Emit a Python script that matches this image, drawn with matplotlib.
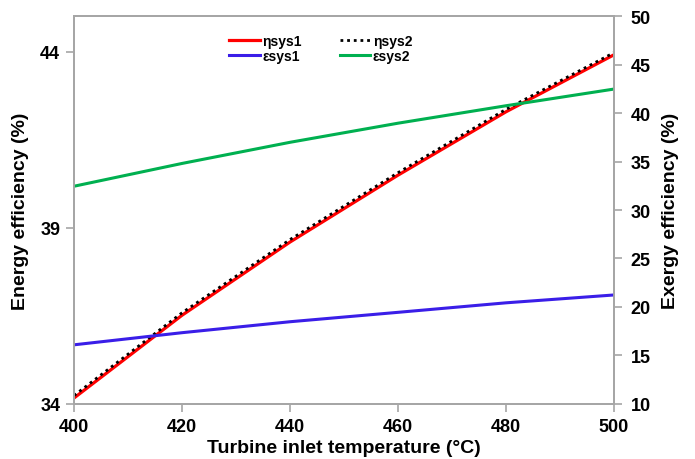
import numpy as np
import matplotlib.pyplot as plt

plt.rcParams['font.family'] = ['Liberation Sans', 'DejaVu Sans']
plt.rcParams['font.weight'] = 'bold'

# turbine inlet temperature (°C)
temp = [400, 420, 440, 460, 480, 500]
# energy efficiency (%), left axis
eta_sys1 = [34.17, 36.52, 38.60, 40.50, 42.30, 43.92]
eta_sys2 = [34.24, 36.59, 38.67, 40.57, 42.37, 43.98]
# exergy efficiency (%), right axis
eps_sys1 = [16.10, 17.35, 18.48, 19.45, 20.43, 21.24]
eps_sys2 = [32.45, 34.80, 36.98, 38.95, 40.75, 42.47]

spine_col = '#a6a6a6'

fig = plt.figure(figsize=(6.95, 4.6), dpi=100)
ax1 = fig.add_axes([0.1065, 0.1196, 0.777, 0.8434])
ax2 = ax1.twinx()

l1, = ax1.plot(temp, eta_sys1, color='#ff0000', lw=2.3, label='ηsys1')
l2, = ax1.plot(temp, eta_sys2, color='black', lw=2.0, ls=(0, (1, 1.4)), label='ηsys2')
l3, = ax2.plot(temp, eps_sys1, color='#3a1ee8', lw=2.2, label='εsys1')
l4, = ax2.plot(temp, eps_sys2, color='#00b050', lw=2.2, label='εsys2')

ax1.set_xlim(400, 500)
ax1.set_ylim(34, 45.02)
ax1.set_yticks([34, 39, 44])
ax1.set_xticks(range(400, 501, 20))
ax2.set_ylim(10, 50)
ax2.set_yticks(range(10, 51, 5))

for ax in (ax1, ax2):
    for s in ax.spines.values():
        s.set_color(spine_col)
        s.set_linewidth(1.3)
    ax.tick_params(colors=spine_col, labelcolor='black', labelsize=13,
                   length=6, width=1.2, direction='out', pad=4)
ax2.tick_params(pad=6)

ax1.set_xlabel('Turbine inlet temperature (°C)', fontsize=14, fontweight='bold', labelpad=3)
ax1.set_ylabel('Energy efficiency (%)', fontsize=14, fontweight='bold', labelpad=8)
ax2.set_ylabel('Exergy efficiency (%)', fontsize=14, fontweight='bold', labelpad=8)

ax1.legend(handles=[l1, l3, l2, l4], ncol=2, frameon=False, fontsize=10,
           loc='upper center', bbox_to_anchor=(0.457, 0.985), handlelength=2.2,
           handletextpad=0.2, columnspacing=2.7, labelspacing=0.05)

fig.savefig('out.png', dpi=100)
